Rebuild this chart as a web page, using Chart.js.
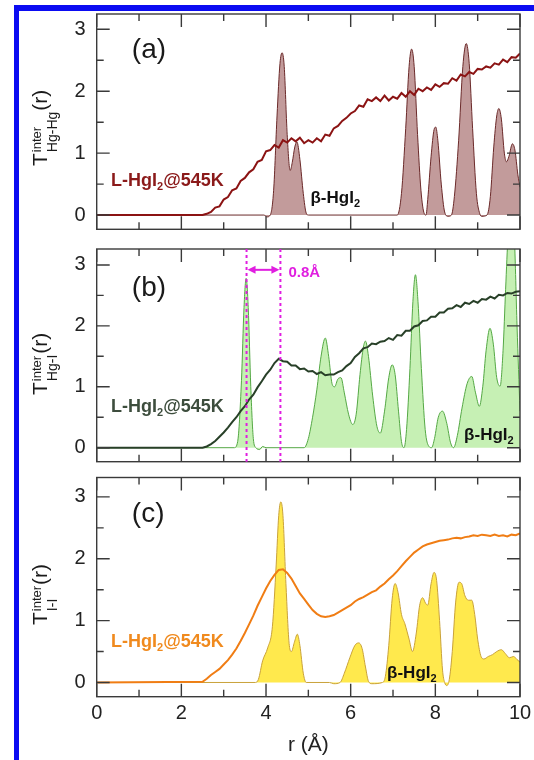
<!DOCTYPE html>
<html>
<head>
<meta charset="utf-8">
<script src="https://cdn.jsdelivr.net/npm/chart.js@4.4.1/dist/chart.umd.min.js"></script>
<style>
  html, body { margin: 0; padding: 0; background: #fff; }
  #page { position: relative; width: 534px; height: 760px; overflow: hidden; }
  .panel { position: absolute; left: 0; width: 534px; }
  #frame { position: absolute; left: 14px; top: 5px; width: 520px; height: 755px;
           border-top: 6px solid #0b0bf2; border-left: 5px solid #0b0bf2; box-sizing: border-box; }
</style>
</head>
<body>
<div id="page">
  <div id="frame"></div>
  <div class="panel" style="top:0;height:240px"><canvas id="chartA"></canvas></div>
  <div class="panel" style="top:240px;height:230px"><canvas id="chartB"></canvas></div>
  <div class="panel" style="top:470px;height:290px"><canvas id="chartC"></canvas></div>
</div>
<script>
// r grid of the liquid (L-HgI2 @ 545K) curves, in Å
const rLiquid = [0, 2.5, 2.6, 2.7, 2.8, 2.9, 3.0, 3.1, 3.2, 3.3, 3.4, 3.5, 3.6, 3.7, 3.8, 3.9,
  4.0, 4.1, 4.2, 4.3, 4.4, 4.5, 4.6, 4.7, 4.8, 4.9, 5.0, 5.1, 5.2, 5.3, 5.4, 5.5, 5.6, 5.7, 5.8, 5.9,
  6.0, 6.1, 6.2, 6.3, 6.4, 6.5, 6.6, 6.7, 6.8, 6.9, 7.0, 7.1, 7.2, 7.3, 7.4, 7.5, 7.6, 7.7, 7.8, 7.9,
  8.0, 8.1, 8.2, 8.3, 8.4, 8.5, 8.6, 8.7, 8.8, 8.9, 9.0, 9.1, 9.2, 9.3, 9.4, 9.5, 9.6, 9.7, 9.8, 9.9, 10.0];

// (a) Hg-Hg
const liquidA = [0, 0.00, 0.02, 0.05, 0.12, 0.14, 0.25, 0.29, 0.40, 0.43, 0.55,
  0.60, 0.69, 0.74, 0.86, 0.89, 1.03, 1.05, 1.13, 1.09, 1.21,
  1.17, 1.24, 1.19, 1.25, 1.16, 1.21, 1.17, 1.24, 1.19, 1.30,
  1.28, 1.40, 1.44, 1.52, 1.57, 1.64, 1.68, 1.77, 1.75, 1.87,
  1.84, 1.90, 1.84, 1.93, 1.85, 1.91, 1.88, 1.97, 1.91, 2.00,
  1.94, 2.04, 2.00, 2.06, 2.02, 2.11, 2.07, 2.13, 2.12, 2.21,
  2.17, 2.27, 2.24, 2.31, 2.28, 2.36, 2.35, 2.40, 2.38, 2.45,
  2.43, 2.51, 2.47, 2.55, 2.54, 2.61];
const crystalA_r = [0, 3.95, 4.02, 4.1, 4.18, 4.26, 4.33, 4.38, 4.43, 4.5,
  4.57, 4.62, 4.68, 4.73, 4.8, 4.88, 4.95, 5.0, 7.1, 7.2,
  7.3, 7.38, 7.44, 7.5, 7.58, 7.66, 7.74, 7.78, 7.82, 7.9,
  7.97, 8.01, 8.06, 8.14, 8.22, 8.3, 8.38, 8.45, 8.55, 8.65,
  8.73, 8.8, 8.88, 8.97, 9.05, 9.1, 9.22, 9.3, 9.38, 9.45,
  9.5, 9.56, 9.63, 9.68, 9.74, 9.82, 9.88, 9.95, 10.0];
const crystalA_t = [0, 0, -0.03, 0, 0.4, 1.6, 2.45, 2.62, 2.4, 1.3,
  0.72, 0.85, 1.1, 1.18, 0.9, 0.35, 0.03, 0, 0, 0.35,
  1.4, 2.4, 2.68, 2.4, 1.3, 0.4, 0.02, 0, 0.25, 0.95,
  1.38, 1.42, 1.2, 0.5, 0.05, -0.02, 0, 0.3, 1.2, 2.4,
  2.77, 2.45, 1.4, 0.35, 0.02, -0.02, 0, 0.3, 1.1, 1.6,
  1.72, 1.55, 1.0, 0.86, 0.95, 1.15, 1.05, 0.65, 0.45];

// (b) Hg-I
const liquidB = [0, 0.00, 0.02, 0.06, 0.11, 0.18, 0.25, 0.33, 0.42, 0.50, 0.60,
  0.68, 0.79, 0.87, 0.99, 1.09, 1.20, 1.28, 1.39, 1.46, 1.42,
  1.41, 1.35, 1.35, 1.29, 1.30, 1.25, 1.26, 1.21, 1.24, 1.19,
  1.20, 1.20, 1.24, 1.27, 1.34, 1.39, 1.49, 1.55, 1.63, 1.65,
  1.71, 1.70, 1.74, 1.75, 1.80, 1.77, 1.85, 1.84, 1.92, 1.92,
  1.99, 2.01, 2.08, 2.09, 2.15, 2.15, 2.22, 2.22, 2.28, 2.29,
  2.34, 2.31, 2.38, 2.36, 2.41, 2.38, 2.44, 2.43, 2.48, 2.45,
  2.51, 2.50, 2.54, 2.53, 2.56, 2.57];
const crystalB_r = [0, 3.25, 3.33, 3.42, 3.48, 3.53, 3.58, 3.64, 3.7, 3.76,
  3.85, 3.92, 4.0, 4.9, 5.0, 5.1, 5.2, 5.3, 5.4, 5.48,
  5.56, 5.62, 5.7, 5.77, 5.85, 5.95, 6.05, 6.13, 6.22, 6.3,
  6.35, 6.42, 6.52, 6.62, 6.7, 6.8, 6.9, 6.98, 7.05, 7.13,
  7.2, 7.26, 7.32, 7.4, 7.47, 7.53, 7.59, 7.67, 7.76, 7.85,
  7.91, 7.98, 8.07, 8.17, 8.27, 8.36, 8.43, 8.52, 8.63, 8.75,
  8.86, 8.95, 9.04, 9.12, 9.2, 9.29, 9.37, 9.45, 9.53, 9.6,
  9.66, 9.72, 9.8, 9.87, 9.93, 10.0];
const crystalB_t = [0, 0, 0.1, 1.1, 2.3, 2.78, 2.3, 1.0, 0.15, 0,
  -0.03, 0.02, 0, 0, 0.15, 0.5, 0.95, 1.5, 1.8, 1.5,
  1.05, 1.0, 1.13, 1.15, 0.9, 0.55, 0.38, 0.55, 1.2, 1.65,
  1.75, 1.5, 0.85, 0.35, 0.24, 0.6, 1.15, 1.36, 1.2, 0.6,
  0.1, 0, 0.3, 1.3, 2.4, 2.84, 2.4, 1.3, 0.3, 0.02,
  0, 0.15, 0.5, 0.6, 0.4, 0.08, 0, 0.2, 0.65, 1.05,
  1.17, 0.9, 0.68, 1.0, 1.6, 1.96, 1.7, 1.15, 1.01, 1.6,
  2.6, 3.5, 3.9, 3.4, 2.0, 0.6];
// first-peak shift marker in (b)
const markR = [3.54, 4.34];
const markT = 2.92;

// (c) I-I
const liquidC = [0, 0.01, 0.06, 0.12, 0.17, 0.22, 0.29, 0.36, 0.45, 0.55, 0.67,
  0.80, 0.94, 1.08, 1.24, 1.38, 1.52, 1.64, 1.74, 1.82, 1.83,
  1.77, 1.68, 1.56, 1.44, 1.35, 1.26, 1.17, 1.11, 1.07, 1.06,
  1.07, 1.09, 1.13, 1.17, 1.21, 1.25, 1.31, 1.35, 1.38, 1.42,
  1.46, 1.49, 1.55, 1.60, 1.67, 1.73, 1.80, 1.88, 1.96, 2.03,
  2.10, 2.15, 2.20, 2.23, 2.25, 2.27, 2.29, 2.30, 2.31, 2.33,
  2.34, 2.33, 2.35, 2.36, 2.38, 2.37, 2.39, 2.38, 2.37, 2.39,
  2.37, 2.38, 2.36, 2.39, 2.38, 2.41];
const crystalC_r = [0, 3.75, 3.82, 3.92, 4.04, 4.15, 4.24, 4.3, 4.35, 4.4,
  4.47, 4.55, 4.6, 4.67, 4.74, 4.8, 4.88, 4.95, 5.5, 5.6,
  5.75, 5.85, 5.98, 6.1, 6.19, 6.27, 6.35, 6.42, 6.5, 6.75,
  6.82, 6.9, 6.98, 7.05, 7.12, 7.2, 7.28, 7.38, 7.46, 7.55,
  7.63, 7.7, 7.77, 7.82, 7.9, 7.97, 8.03, 8.1, 8.17, 8.22,
  8.27, 8.33, 8.4, 8.48, 8.56, 8.62, 8.7, 8.78, 8.86, 8.93,
  9.0, 9.08, 9.15, 9.25, 9.35, 9.45, 9.56, 9.65, 9.75, 9.85,
  9.93, 10.0];
const crystalC_t = [0, 0, 0.05, 0.35, 0.56, 0.9, 1.9, 2.7, 2.92, 2.7,
  1.6, 0.6, 0.5, 0.65, 0.78, 0.6, 0.15, 0, 0, -0.02,
  0, 0.15, 0.4, 0.6, 0.64, 0.55, 0.25, 0.02, -0.02, 0,
  0.1, 0.6, 1.35, 1.6, 1.45, 1.1, 0.95, 0.7, 0.5, 0.8,
  1.25, 1.37, 1.28, 1.25, 1.6, 1.78, 1.65, 1.0, 0.2, 0,
  -0.05, 0.05, 0.5, 1.3, 1.62, 1.6, 1.4, 1.33, 1.33, 1.1,
  0.7, 0.42, 0.38, 0.42, 0.45, 0.5, 0.53, 0.47, 0.4, 0.42,
  0.37, 0.33];

const xTickLabels = [0, 2, 4, 6, 8, 10];
const yTickLabels = [0, 1, 2, 3];

const FONT = '"Liberation Sans", Arial, Helvetica, sans-serif';
const INK = '#222';

function drawRuns(ctx, x, y, parts) {
    let cx = x;
    for (const p of parts) {
        ctx.font = `${p.w || ''} ${p.size}px ${FONT}`;
        ctx.fillText(p.t, cx, y + (p.dy || 0));
        cx += ctx.measureText(p.t).width;
    }
}

// box + inward ticks on all four sides
const frameTicks = {
    id: 'frameTicks',
    afterDatasetsDraw(chart) {
        const { ctx, chartArea: a, scales: { x, y } } = chart;
        ctx.save();
        ctx.strokeStyle = '#3a3a3a';
        ctx.lineWidth = 1.4;
        ctx.strokeRect(a.left, a.top, a.right - a.left, a.bottom - a.top);
        ctx.beginPath();
        for (let v = 0; v <= 10; v++) {
            const px = x.getPixelForValue(v);
            const len = v % 2 === 0 ? 13 : 7;
            ctx.moveTo(px, a.bottom); ctx.lineTo(px, a.bottom - len);
            ctx.moveTo(px, a.top); ctx.lineTo(px, a.top + len);
        }
        for (let v = 0; v <= 3; v += 0.5) {
            const py = y.getPixelForValue(v);
            const len = v % 1 === 0 ? 13 : 7;
            ctx.moveTo(a.left, py); ctx.lineTo(a.left + len, py);
            ctx.moveTo(a.right, py); ctx.lineTo(a.right - len, py);
        }
        ctx.stroke();
        ctx.restore();
    }
};

const panelText = {
    id: 'panelText',
    afterDraw(chart, args, o) {
        const { ctx, chartArea: a, scales: { x, y } } = chart;
        ctx.save();
        ctx.textAlign = 'left';
        ctx.textBaseline = 'alphabetic';

        if (o.marker) {
            const x1 = x.getPixelForValue(markR[0]);
            const x2 = x.getPixelForValue(markR[1]);
            const ya = y.getPixelForValue(markT);
            ctx.strokeStyle = '#e01ee0';
            ctx.fillStyle = '#e01ee0';
            ctx.lineWidth = 2;
            ctx.setLineDash([3, 3]);
            ctx.beginPath();
            ctx.moveTo(x1, a.top); ctx.lineTo(x1, a.bottom);
            ctx.moveTo(x2, a.top); ctx.lineTo(x2, a.bottom);
            ctx.stroke();
            ctx.setLineDash([]);
            ctx.beginPath();
            ctx.moveTo(x1 + 4, ya); ctx.lineTo(x2 - 4, ya);
            ctx.stroke();
            ctx.beginPath();
            ctx.moveTo(x1 + 1, ya); ctx.lineTo(x1 + 9, ya - 4); ctx.lineTo(x1 + 9, ya + 4); ctx.closePath();
            ctx.moveTo(x2 - 1, ya); ctx.lineTo(x2 - 9, ya - 4); ctx.lineTo(x2 - 9, ya + 4); ctx.closePath();
            ctx.fill();
            ctx.font = `bold 15px ${FONT}`;
            ctx.fillText('0.8Å', x2 + 8, ya + 7);
        }

        ctx.fillStyle = '#1a1a1a';
        ctx.font = `28px ${FONT}`;
        ctx.fillText(o.tag, x.getPixelForValue(o.tagAt[0]), y.getPixelForValue(o.tagAt[1]));

        ctx.fillStyle = o.liquidColor;
        drawRuns(ctx, x.getPixelForValue(o.liquidAt[0]), y.getPixelForValue(o.liquidAt[1]), [
            { t: 'L-HgI', size: 18, w: 'bold' },
            { t: '2', size: 11, w: 'bold', dy: 4 },
            { t: '@545K', size: 18, w: 'bold' }
        ]);

        ctx.fillStyle = '#111';
        drawRuns(ctx, x.getPixelForValue(o.betaAt[0]), y.getPixelForValue(o.betaAt[1]), [
            { t: 'β-HgI', size: 17, w: 'bold' },
            { t: '2', size: 11, w: 'bold', dy: 4 }
        ]);

        // rotated y title: T^inter_sub(r)
        ctx.translate(47, o.titleStart);
        ctx.rotate(-Math.PI / 2);
        ctx.fillStyle = '#1a1a1a';
        ctx.font = `21px ${FONT}`;
        ctx.fillText('T', 0, 0);
        let u = ctx.measureText('T').width + 1;
        ctx.font = `13px ${FONT}`;
        const w1 = ctx.measureText('inter').width;
        ctx.fillText('inter', u, -6);
        ctx.font = `14px ${FONT}`;
        const w2 = ctx.measureText(o.sub).width;
        ctx.fillText(o.sub, u, 10);
        u += Math.max(w1, w2) + 1;
        ctx.font = `21px ${FONT}`;
        ctx.fillText('(r)', u, 0);
        ctx.restore();
    }
};

function makePanel(canvasId, p) {
    const liquid = rLiquid.map((r, i) => ({ x: r, y: p.liquid[i] }));
    const crystal = p.cr.map((r, i) => ({ x: r, y: p.ct[i] }));

    return new Chart(document.getElementById(canvasId), {
        type: 'line',
        data: {
            datasets: [{
                label: 'L-HgI2@545K',
                data: liquid,
                borderColor: p.liquidColor,
                borderWidth: 2,
                pointRadius: 0,
                tension: 0,
                fill: false
            }, {
                label: 'β-HgI2',
                data: crystal,
                borderColor: p.crystalLine,
                backgroundColor: p.crystalFill,
                borderWidth: 1,
                pointRadius: 0,
                cubicInterpolationMode: 'monotone',
                fill: 'origin'
            }]
        },
        options: {
            responsive: true,
            maintainAspectRatio: false,
            animation: false,
            events: [],
            layout: { padding: p.padding },
            scales: {
                x: {
                    type: 'linear',
                    min: 0,
                    max: 10,
                    display: p.showX,
                    grid: { display: false, drawTicks: false },
                    border: { display: false },
                    afterBuildTicks: (s) => { s.ticks = xTickLabels.map(v => ({ value: v })); },
                    afterFit: (s) => {
                        if (p.showX) s.height = p.xHeight;
                        s.paddingLeft = 0;
                        s.paddingRight = 0;
                    },
                    ticks: {
                        font: { family: FONT, size: 20 },
                        color: INK,
                        padding: 5,
                        maxRotation: 0
                    },
                    title: {
                        display: p.showX,
                        text: 'r (Å)',
                        font: { family: FONT, size: 21 },
                        color: INK,
                        padding: { top: 0, bottom: 2 }
                    }
                },
                y: {
                    min: -0.23,
                    max: p.yMax,
                    grid: { display: false, drawTicks: false },
                    border: { display: false },
                    afterBuildTicks: (s) => { s.ticks = yTickLabels.map(v => ({ value: v })); },
                    afterFit: (s) => {
                        s.width = 96.7;
                        s.paddingTop = 0;
                        s.paddingBottom = 0;
                    },
                    ticks: {
                        font: { family: FONT, size: 20 },
                        color: INK,
                        padding: 11
                    }
                }
            },
            plugins: {
                legend: { display: false },
                tooltip: { enabled: false },
                panelText: p.text
            }
        },
        plugins: [frameTicks, panelText]
    });
}

makePanel('chartA', {
    liquid: liquidA, cr: crystalA_r, ct: crystalA_t,
    liquidColor: '#8b1313', crystalLine: '#6b2a2a', crystalFill: 'rgba(150, 82, 82, 0.58)',
    yMax: 3.247, showX: false,
    padding: { left: 0, right: 14, top: 14, bottom: 10.7 },
    text: {
        tag: '(a)', tagAt: [0.83, 2.54], sub: 'Hg-Hg', titleStart: 166,
        liquidColor: '#8b1a1a', liquidAt: [0.34, 0.47], betaAt: [5.05, 0.19]
    }
});

makePanel('chartB', {
    liquid: liquidB, cr: crystalB_r, ct: crystalB_t,
    liquidColor: '#284028', crystalLine: '#55a845', crystalFill: '#c6f0b4',
    yMax: 3.262, showX: false,
    padding: { left: 0, right: 14, top: 9, bottom: 8.3 },
    text: {
        tag: '(b)', tagAt: [0.83, 2.49], sub: 'Hg-I', titleStart: 155,
        liquidColor: '#3d4d3d', liquidAt: [0.34, 0.58], betaAt: [8.68, 0.12],
        marker: true
    }
});

makePanel('chartC', {
    liquid: liquidC, cr: crystalC_r, ct: crystalC_t,
    liquidColor: '#f07d14', crystalLine: '#c9a23a', crystalFill: '#ffe94d',
    yMax: 3.314, showX: true, xHeight: 63.3,
    padding: { left: 0, right: 14, top: 7.5, bottom: 0 },
    text: {
        tag: '(c)', tagAt: [0.83, 2.59], sub: 'I-I', titleStart: 155,
        liquidColor: '#f08a1e', liquidAt: [0.34, 0.57], betaAt: [6.86, 0.08]
    }
});
</script>
</body>
</html>
